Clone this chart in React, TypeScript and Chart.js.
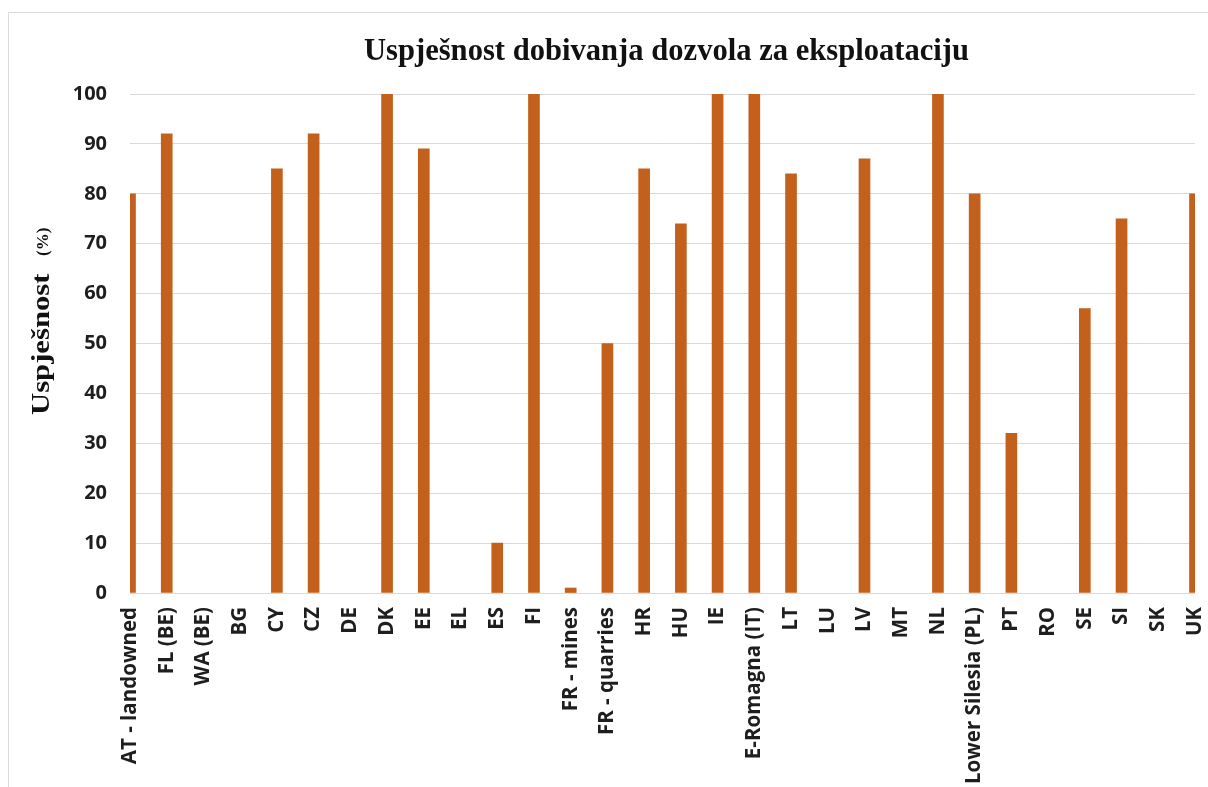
import React, { useEffect, useRef } from "react";
import { Chart, registerables } from "chart.js";

Chart.register(...registerables);

const chartTitle = "Uspješnost dobivanja dozvola za eksploataciju";
const yTitleMain = "Uspješnost";
const yTitleUnit = "(%)";

const categories = [
  "AT - landowned", "FL (BE)", "WA (BE)", "BG", "CY", "CZ", "DE", "DK", "EE", "EL",
  "ES", "FI", "FR - mines", "FR - quarries", "HR", "HU", "IE", "E-Romagna (IT)", "LT", "LU",
  "LV", "MT", "NL", "Lower Silesia (PL)", "PT", "RO", "SE", "SI", "SK", "UK",
];

const successValues = [
  80, 92, 0, 0, 85, 92, 0, 100, 89, 0,
  10, 100, 1, 50, 85, 74, 100, 100, 84, 0,
  87, 0, 100, 80, 32, 0, 57, 75, 0, 80,
];

const yMin = 0;
const yMax = 100;
const yStep = 10;

const textColor = "#1e1e1e";
const barColor = "#C2601C";
const gridColor = "#d9d9d9";

const titlePlugin = {
  id: "customTitles",
  afterDraw(chart: any) {
    const { ctx, chartArea } = chart;
    ctx.save();
    ctx.fillStyle = "#111";
    ctx.font = 'bold 30.6px "Liberation Serif"';
    ctx.textAlign = "center";
    ctx.textBaseline = "alphabetic";
    ctx.fillText(chartTitle, (chartArea.left + chartArea.right) / 2 + 4, 47);

    ctx.textAlign = "left";
    ctx.save();
    ctx.translate(40, 402);
    ctx.rotate(-Math.PI / 2);
    ctx.scale(1.18, 1);
    ctx.font = 'bold 26px "Liberation Serif"';
    ctx.fillText(yTitleMain, 0, 0);
    ctx.restore();

    ctx.save();
    ctx.translate(39, 243);
    ctx.rotate(-Math.PI / 2);
    ctx.font = 'bold 17px "Liberation Serif"';
    ctx.fillText(yTitleUnit, 0, 0);
    ctx.restore();
    ctx.restore();
  },
};

export default function App() {
  const canvasRef = useRef<HTMLCanvasElement | null>(null);

  useEffect(() => {
    if (!canvasRef.current) return;
    const chart = new Chart(canvasRef.current, {
      type: "bar",
      data: {
        labels: categories,
        datasets: [
          {
            label: yTitleMain,
            data: successValues,
            backgroundColor: (c: any) => (c.raw === 0 ? "rgba(0,0,0,0)" : barColor),
            borderWidth: 0,
            barThickness: 11,
          },
        ],
      },
      options: {
        animation: false,
        responsive: true,
        maintainAspectRatio: false,
        layout: { padding: { top: 81, right: 13, bottom: 0, left: 0 } },
        plugins: {
          legend: { display: false },
          title: { display: false },
          tooltip: { enabled: false },
        },
        scales: {
          x: {
            offset: false,
            grid: { display: false, drawTicks: false },
            border: { display: false },
            ticks: {
              autoSkip: false,
              minRotation: 90,
              maxRotation: 90,
              padding: 14,
              color: textColor,
              font: { family: '"Open Sans"', size: 20.5, weight: "bold" },
            },
            afterFit(scale: any) {
              scale.height = 194;
              scale.paddingLeft = 0;
              scale.paddingRight = 0;
            },
          },
          y: {
            min: yMin,
            max: yMax,
            grid: { color: gridColor, lineWidth: 1, drawTicks: false },
            border: { display: false },
            ticks: {
              stepSize: yStep,
              padding: 23,
              color: textColor,
              font: { family: '"Open Sans"', size: 20, weight: "bold" },
            },
            afterFit(scale: any) {
              scale.width = 121;
            },
          },
        },
      },
      plugins: [titlePlugin],
    });
    return () => chart.destroy();
  }, []);

  return (
    <div
      style={{
        position: "fixed",
        left: 8,
        top: 12,
        width: 1200,
        height: 775,
        boxSizing: "border-box",
        borderTop: "1px solid #d9d9d9",
        borderLeft: "1px solid #d9d9d9",
        background: "#fff",
      }}
    >
      <div style={{ position: "relative", width: 1199, height: 774 }}>
        <canvas ref={canvasRef} />
      </div>
    </div>
  );
}
